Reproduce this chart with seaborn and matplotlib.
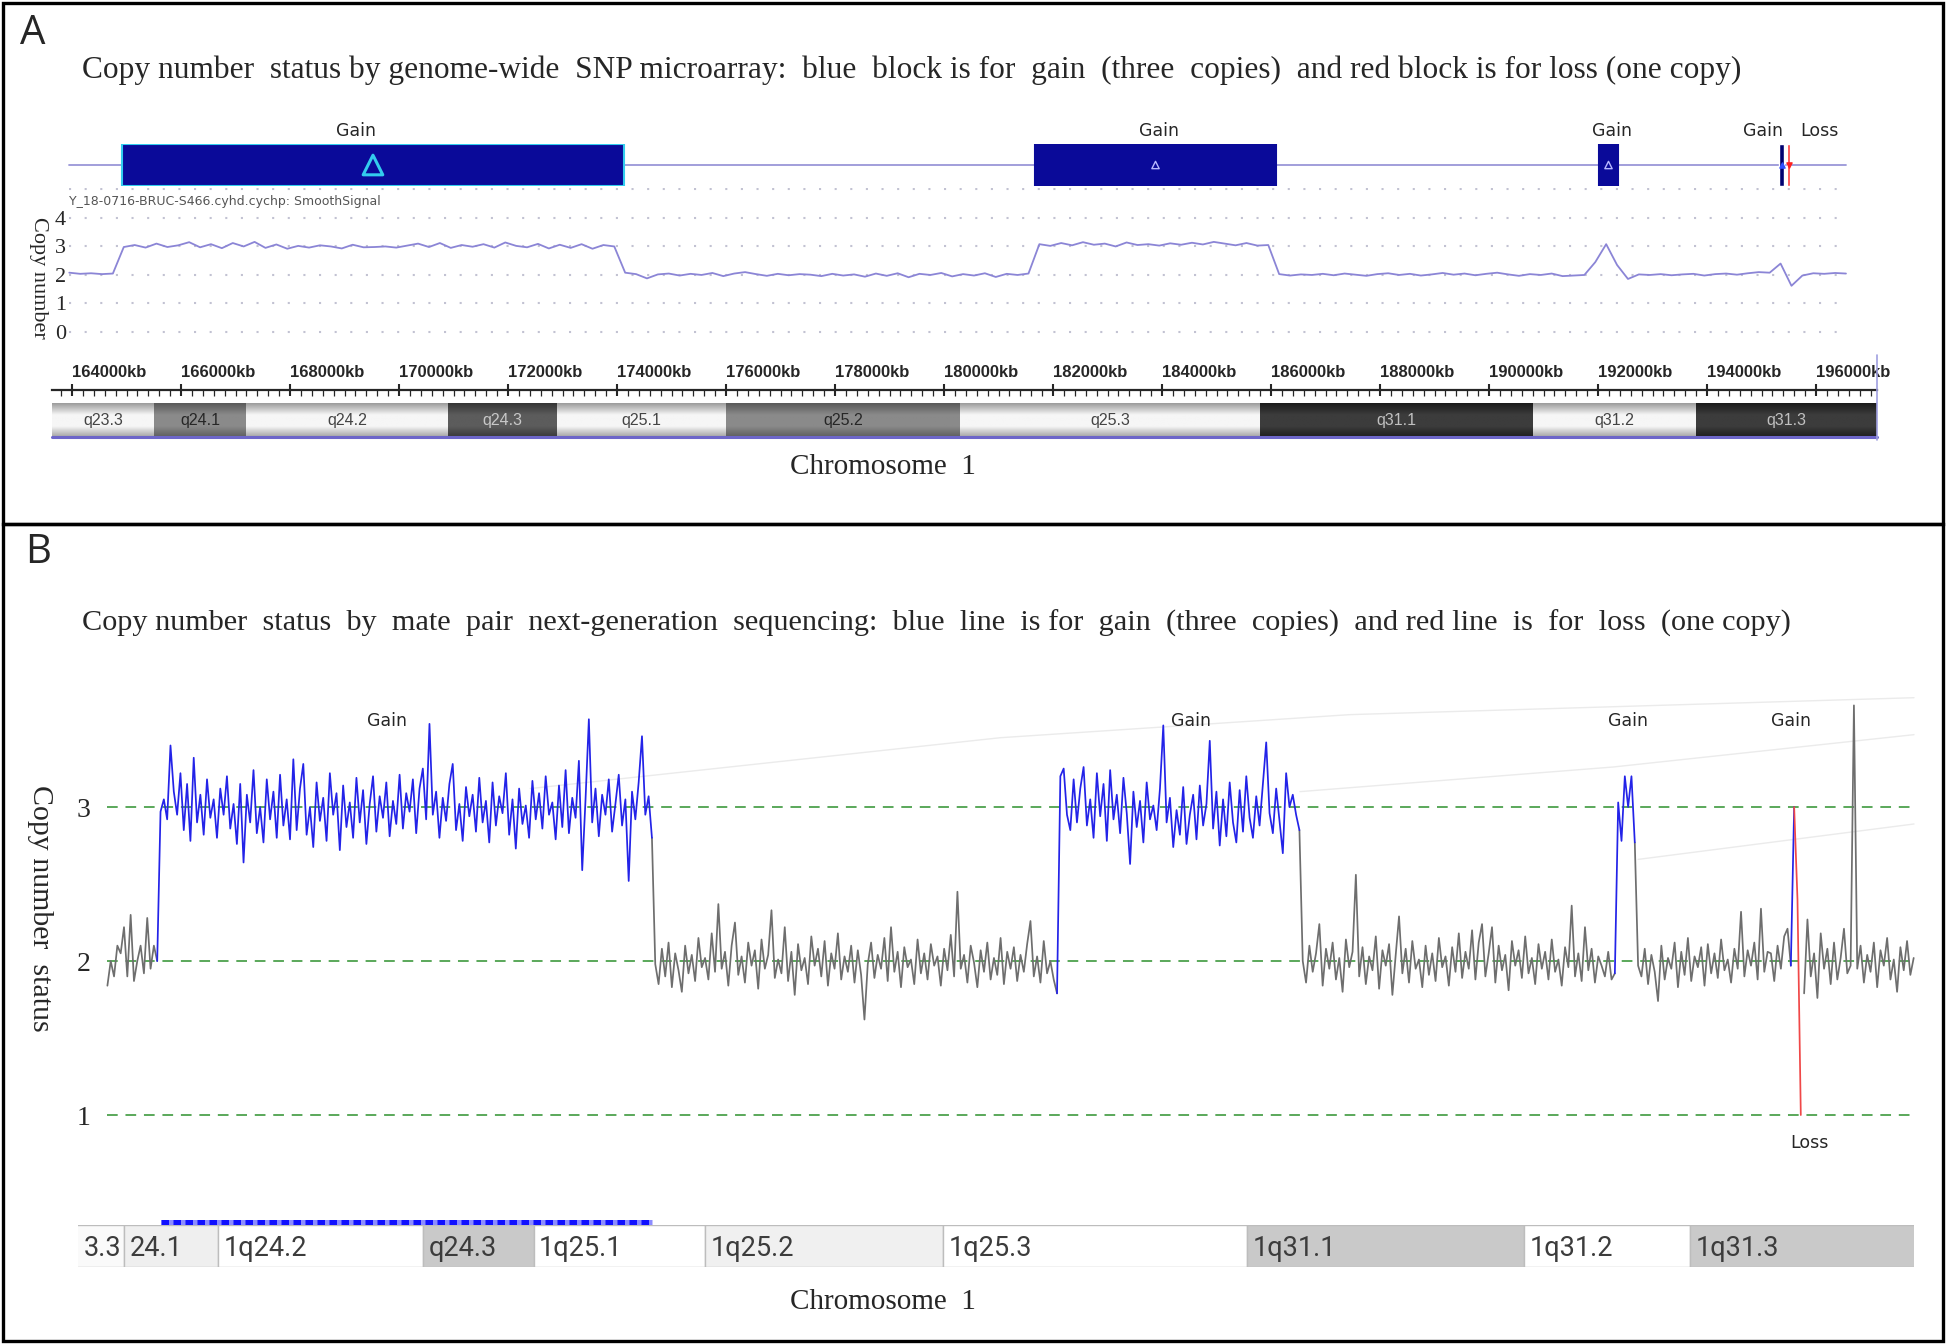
import numpy as np
import pandas as pd
import matplotlib
matplotlib.use('Agg')
import matplotlib.pyplot as plt
from matplotlib.colors import LinearSegmentedColormap
from matplotlib.patches import Rectangle
from matplotlib.lines import Line2D
from matplotlib.ticker import MultipleLocator
import seaborn as sns

W, H = 1946, 1344

# ---------------- Panel A: SNP microarray ----------------
SNP_START_KB = 163950
SNP_STEP_KB = 200
snp_smooth_cn = [
    2.08, 2.04, 2.06, 2.03, 2.05,
    2.98, 3.05, 2.96, 3.10, 2.98, 3.04, 3.15, 2.97, 3.08, 2.94,
    3.12, 3.00, 3.16, 2.95, 3.07, 2.92, 3.02, 2.96, 3.04, 3.00,
    2.93, 3.06, 2.97, 2.98, 3.00, 2.96, 3.03, 3.10, 2.98, 3.12,
    2.95, 3.05, 2.99, 3.08, 2.96, 3.14, 3.02, 2.97, 3.09, 2.93,
    3.06, 2.95, 3.08, 2.92, 3.05, 3.00,
    2.08, 2.03, 1.88, 2.02, 2.05, 1.98, 2.04, 2.00, 2.07, 1.96,
    2.05, 2.10, 2.03, 1.97, 2.04, 1.99, 2.03, 2.01, 1.96, 2.04,
    1.98, 2.02, 1.94, 2.05, 1.97, 2.06, 1.92, 2.04, 2.00, 2.07,
    1.95, 2.03, 1.98, 2.06, 1.93, 2.04, 2.00, 2.05,
    3.08, 3.02, 3.12, 3.04, 3.15, 3.06, 3.10, 3.00, 3.14, 3.05,
    3.08, 3.03, 3.11, 3.06, 3.13, 3.07, 3.16, 3.10, 3.04, 3.12, 3.03, 3.05,
    2.03, 1.98, 2.02, 2.00, 2.04, 1.99, 2.05, 2.01, 1.97, 2.03,
    2.06, 2.00, 2.04, 1.98, 2.02, 2.07, 2.01, 2.05, 1.99, 2.04,
    2.08, 2.02, 1.97, 2.03, 2.00, 2.05, 1.96, 1.98, 2.00,
    2.45, 3.08, 2.35, 1.86, 2.02,
    2.00, 2.03, 1.99, 2.02, 2.04, 1.98, 2.03, 2.05, 2.01, 2.06, 2.10, 2.08,
    2.40, 1.62, 1.98,
    2.06, 2.04, 2.07, 2.05,
]
snp_block_start_kb = [164917, 181670, 192018]
snp_block_end_kb = [174128, 186092, 192367]
snp_gain_label_kb = [169211, 183945, 192257, 195028]
snp_small_gain_kb = [195330, 195420]
snp_small_loss_kb = [195470, 195530]
snp_loss_label_kb = 196055
ruler_ticks_kb = list(range(164000, 196001, 2000))

band_names_a = ['q23.3', 'q24.1', 'q24.2', 'q24.3', 'q25.1', 'q25.2', 'q25.3', 'q31.1', 'q31.2', 'q31.3']
band_start_kb = [161500, 165500, 167200, 170900, 172900, 176000, 180300, 185800, 190800, 193800]
band_end_kb = [165500, 167200, 170900, 172900, 176000, 180300, 185800, 190800, 193800, 198700]
band_stain = ['gneg', 'gpos50', 'gneg', 'gpos75', 'gneg', 'gpos50', 'gneg', 'gpos100', 'gneg', 'gpos100']

# ---------------- Panel B: mate pair NGS ----------------
NGS_START_KB = 165200
NGS_BIN_KB = 60
ngs_norm_0 = [1.84, 2.00, 1.90, 2.10, 2.05, 2.22, 1.90, 2.30, 1.87, 2.00, 2.10, 1.92, 2.28, 1.95, 2.10, 2.00]
ngs_gain_1 = [
    2.97, 3.05, 2.92, 3.40, 3.10, 2.95, 3.22, 2.85, 3.15, 2.78,
    3.32, 2.90, 3.08, 2.82, 3.18, 2.93, 3.05, 2.80, 3.12, 2.95,
    3.20, 2.86, 3.02, 2.76, 3.15, 2.64, 3.08, 2.90, 3.24, 2.83,
    3.00, 2.77, 3.18, 2.92, 3.10, 2.80, 3.21, 2.88, 3.05, 2.79,
    3.31, 2.85, 3.12, 3.28, 2.82, 3.00, 2.74, 3.16, 2.91, 3.06,
    2.78, 3.22, 2.95, 3.09, 2.72, 3.14, 2.87, 3.03, 2.80, 3.19,
    2.90, 3.11, 2.76, 3.02, 3.20, 2.84, 3.07, 2.93, 3.16, 2.81,
    3.04, 2.89, 3.21, 2.86, 3.09, 2.97, 3.18, 2.83, 3.12, 3.25,
    2.92, 3.54, 2.95, 3.10, 2.80, 3.06, 2.91, 3.15, 3.28, 2.85,
    3.02, 2.78, 3.13, 2.94, 3.08, 2.84, 3.19, 2.90, 3.04, 2.77,
    3.16, 2.88, 3.07, 2.96, 3.22, 2.82, 3.05, 2.73, 3.12, 2.89,
    3.01, 2.80, 3.17, 2.92, 3.09, 2.86, 3.20, 2.95, 3.03, 2.79,
    3.14, 2.87, 3.24, 2.83, 3.06, 2.93, 3.30, 2.59, 3.05, 3.57,
    2.90, 3.12, 2.81, 3.08, 2.95, 3.18, 2.84, 3.02, 3.21, 2.88,
    3.05, 2.52, 3.10, 2.92, 3.16, 3.46, 2.95, 3.07, 2.80,
]
ngs_norm_1 = [
    1.98, 1.85, 2.08, 1.90, 2.12, 1.83, 2.05, 1.94, 1.80, 2.10,
    1.92, 2.04, 1.87, 2.15, 1.96, 2.02, 1.88, 2.18, 1.93, 2.37,
    1.95, 2.06, 1.84, 2.10, 2.25, 1.91, 2.03, 1.86, 2.12, 1.97,
    2.07, 1.82, 2.14, 1.95, 2.04, 2.33, 1.89, 2.01, 1.92, 2.22,
    1.87, 2.06, 1.78, 2.11, 1.94, 2.02, 1.85, 2.16, 1.97, 2.08,
    1.90, 2.13, 1.84, 2.05, 1.95, 2.18, 1.88, 2.03, 1.93, 2.10,
    1.86, 2.07, 1.91, 1.62, 1.98, 2.12, 1.89, 2.04, 1.95, 2.15,
    1.87, 2.22, 1.93, 2.06, 1.83, 2.09, 1.96, 2.01, 1.85, 2.14,
    1.92, 2.05, 1.88, 2.11, 1.97, 2.03, 1.84, 2.08, 1.94, 2.17,
    1.90, 2.45, 1.95, 2.04, 1.86, 2.10, 1.99, 1.83, 2.07, 1.93,
    2.12, 1.88, 2.02, 1.91, 2.15, 1.85, 2.06, 1.95, 2.09, 1.87,
    2.04, 1.93, 2.11, 2.26, 1.90, 2.03, 1.86, 2.13, 1.92, 2.00,
    1.88, 1.79,
]
ngs_gain_2 = [
    3.20, 3.25, 2.95, 2.85, 3.18, 2.90, 3.12, 3.26, 2.88, 3.05,
    2.80, 3.22, 2.94, 3.15, 2.78, 3.24, 2.92, 3.08, 2.83, 3.19,
    2.96, 2.63, 3.10, 2.87, 3.04, 2.77, 3.16, 2.92, 3.01, 2.85,
    3.12, 3.53, 2.90, 3.06, 2.74, 2.98, 2.82, 3.13, 2.76, 2.95,
    3.08, 2.79, 3.14, 2.88, 3.02, 3.43, 2.86, 3.10, 2.75, 3.05,
    2.81, 3.16, 2.90, 2.77, 3.11, 2.84, 3.20, 2.93, 2.80, 3.07,
    2.88, 3.15, 3.42, 2.96, 2.83, 3.12, 2.91, 2.70, 3.22, 3.00,
    3.08, 2.95, 2.85,
]
ngs_norm_2 = [
    2.00, 1.86, 2.10, 1.93, 2.05, 2.24, 1.84, 2.08, 1.95, 2.12,
    1.88, 2.02, 1.80, 2.14, 1.96, 2.06, 2.56, 1.90, 2.09, 1.85,
    2.03, 1.94, 2.16, 1.82, 2.07, 1.97, 2.11, 1.78, 2.04, 2.29,
    1.92, 2.08, 1.86, 2.13, 1.95, 2.01, 1.83, 2.10, 1.91, 2.05,
    1.87, 2.15, 1.96, 2.03, 1.84, 2.09, 1.93, 2.18, 1.89, 2.06,
    1.95, 2.20, 1.88, 2.12, 2.24, 1.90, 2.05, 2.22, 1.86, 2.10,
    1.94, 2.04, 1.81, 2.13, 1.97, 2.07, 1.89, 2.16, 1.92, 2.02,
    1.85, 2.11, 1.95, 2.06, 1.88, 2.14, 1.93, 2.01, 1.84, 2.09,
    1.96, 2.36, 1.90, 2.05, 1.87, 2.22, 1.94, 2.08, 1.86, 2.03,
    1.97, 1.90, 2.06, 1.88, 1.92,
]
ngs_gain_3 = [3.03, 2.78, 3.20, 3.00, 3.20, 2.77]
ngs_norm_3 = [
    1.97, 1.90, 2.08, 1.85, 2.04, 1.93, 1.74, 2.10, 1.88, 2.02,
    1.95, 2.12, 1.83, 2.06, 1.91, 2.15, 1.87, 2.03, 1.96, 2.09,
    1.84, 2.11, 1.92, 2.05, 1.89, 2.14, 1.94, 2.01, 1.86, 2.08,
    1.95, 2.32, 1.90, 2.07, 1.97, 2.12, 1.88, 2.34, 1.93, 2.06,
    2.05, 1.87, 2.10, 1.95, 2.16, 2.21, 1.97,
]
ngs_gain_4 = [3.00]
ngs_loss_1 = [2.40, 1.00]
ngs_norm_4 = [
    1.79, 2.27, 1.90, 2.05, 1.76, 2.18, 1.95, 2.08, 1.85, 2.12,
    1.88, 2.02, 2.21, 1.92, 1.97, 3.66, 1.95, 2.10, 1.86, 2.04,
    1.93, 2.12, 1.83, 2.07, 1.97, 2.15, 1.88, 2.01, 1.80, 2.09,
    1.94, 2.13, 1.91, 2.02,
]
ngs_segments = [
    ('normal', ngs_norm_0), ('gain', ngs_gain_1), ('normal', ngs_norm_1),
    ('gain', ngs_gain_2), ('normal', ngs_norm_2), ('gain', ngs_gain_3),
    ('normal', ngs_norm_3), ('gain', ngs_gain_4), ('loss', ngs_loss_1),
    ('normal', ngs_norm_4),
]
# faint mate-pair link traces in the background (kb, copy number)
link_kb = [[172840, 181330, 187650, 197846], [186750, 192410, 197846], [192860, 197846]]
link_cn = [[3.12, 3.45, 3.60, 3.71], [3.10, 3.26, 3.47], [2.66, 2.89]]
ngs_gain_label_kb = [170252, 184781, 192677, 195623]
ngs_loss_label_kb = 195948

band_names_b = ['3.3', '24.1', '1q24.2', 'q24.3', '1q25.1', '1q25.2', '1q25.3', '1q31.1', '1q31.2', '1q31.3']
band_shade_b = ['#fafafa', '#efefef', '#ffffff', '#c9c9c9', '#ffffff', '#f0f0f0', '#ffffff', '#c9c9c9', '#ffffff', '#c9c9c9']

title_a = ('Copy number  status by genome-wide  SNP microarray:  blue  block is for  gain  '
           '(three  copies)  and red block is for loss (one copy)')
title_b = ('Copy number  status  by  mate  pair  next-generation  sequencing:  blue  line  is for  '
           'gain  (three  copies)  and red line  is  for  loss  (one copy)')

# ---------------- helpers ----------------
sns.set_style('white')
plt.rcParams['font.family'] = ['DejaVu Sans']
SERIF = ['Liberation Serif', 'DejaVu Serif']
NARROW = ['Liberation Sans Narrow', 'Liberation Sans']


def px_rect(x0, y0, x1, y1):
    return [x0 / W, 1 - y1 / H, (x1 - x0) / W, (y1 - y0) / H]


def a_kb(px):
    return 164000 + (px - 72) / 0.0545


def b_kb(px):
    return 165500 + (px - 124) / 0.05534


def fig_text(x, y, s, **kw):
    return fig.text(x / W, 1 - y / H, s, **kw)


fig = plt.figure(figsize=(W / 100, H / 100), dpi=100)

# ======== Panel A ========
snp_x = SNP_START_KB + SNP_STEP_KB * np.arange(len(snp_smooth_cn))
a_lim = (a_kb(52), a_kb(1877))

fig_text(20, 34, 'A', fontsize=29, family=['Open Sans', 'DejaVu Sans'], va='center', ha='left')
fig_text(82, 70, title_a, fontsize=22.6, family=SERIF, va='center', ha='left')

# segment track
ax_blk = fig.add_axes(px_rect(52, 144, 1877, 186))
ax_blk.set_xlim(*a_lim)
ax_blk.set_ylim(0, 1)
ax_blk.axis('off')
ax_blk.plot([snp_x[0], snp_x[-1]], [0.5, 0.5], color='#9a96d8', lw=1.3, zorder=1)
widths = np.array(snp_block_end_kb) - np.array(snp_block_start_kb)
ax_blk.barh(0.5, widths, left=snp_block_start_kb, height=1.0, color='#0a0a99',
            edgecolor=['#33ccee', '#0a0a99', '#0a0a99'], linewidth=1.5, zorder=2)
centers = (np.array(snp_block_start_kb) + np.array(snp_block_end_kb)) / 2
ax_blk.scatter(centers, [0.5] * 3, marker='^', s=[200, 28, 28], facecolors='none',
               edgecolors=['#33ccee', '#b8b8ff', '#b8b8ff'], linewidths=[2.2, 1.0, 1.0], zorder=3)
ax_blk.barh(0.5, snp_small_gain_kb[1] - snp_small_gain_kb[0], left=snp_small_gain_kb[0],
            height=1.0, color='#000070', zorder=2)
ax_blk.barh(0.5, snp_small_loss_kb[1] - snp_small_loss_kb[0], left=snp_small_loss_kb[0],
            height=1.0, color='#ff3b3b', zorder=2)
ax_blk.scatter([np.mean(snp_small_gain_kb)], [0.5], marker='^', s=14, color='#3050ff', zorder=4)
ax_blk.scatter([np.mean(snp_small_loss_kb)], [0.5], marker='v', s=14, color='#ff2020', zorder=4)
for kb in snp_gain_label_kb:
    ax_blk.text(kb, 1.1, 'Gain', ha='center', va='bottom', fontsize=12.5, clip_on=False)
ax_blk.text(snp_loss_label_kb, 1.1, 'Loss', ha='center', va='bottom', fontsize=12.5, clip_on=False)

# smooth signal track
ax_sig = fig.add_axes(px_rect(52, 188, 1877, 345))
ax_sig.set_facecolor('none')
ax_sig.hlines([0, 1, 2, 3, 4, 5], snp_x[0], snp_x[-1], colors='#c2c2d2',
              linestyles=(0, (1, 6.5)), lw=1.5)
sns.lineplot(x=snp_x, y=snp_smooth_cn, ax=ax_sig, color='#8b85d6', lw=1.3, errorbar=None)
ax_sig.set_xlim(*a_lim)
ax_sig.set_ylim(-0.456, 5.05)
ax_sig.set_xticks([])
ax_sig.set_yticks([0, 1, 2, 3, 4])
ax_sig.set_yticklabels(['0', '1', '2', '3', '4'], family=SERIF, fontsize=16)
ax_sig.tick_params(axis='y', length=0, pad=-10)
ax_sig.set_xlabel('')
ax_sig.set_ylabel('')
sns.despine(ax=ax_sig, left=True, bottom=True)
fig_text(69, 202, 'Y_18-0716-BRUC-S466.cyhd.cychp: SmoothSignal', fontsize=9,
         color='#555555', va='center', ha='left')
fig_text(38, 278, 'Copy number', rotation=-90, fontsize=16, family=SERIF,
         ha='center', va='center')

# ruler
ax_rul = fig.add_axes(px_rect(52, 390, 1877, 400))
ax_rul.set_facecolor('none')
ax_rul.set_xlim(*a_lim)
ax_rul.set_yticks([])
for sp in ['left', 'right', 'bottom']:
    ax_rul.spines[sp].set_visible(False)
ax_rul.spines['top'].set_linewidth(1.6)
ax_rul.xaxis.tick_top()
ax_rul.set_xticks(ruler_ticks_kb)
ax_rul.set_xticklabels([f'{v}kb' for v in ruler_ticks_kb], family=NARROW,
                       fontsize=12, fontweight='bold')
ax_rul.xaxis.set_minor_locator(MultipleLocator(200))
ax_rul.tick_params(which='major', direction='inout', length=8, width=1.5, pad=3)
ax_rul.tick_params(which='minor', direction='in', length=4, width=0.9, top=True)
for lab in ax_rul.get_xticklabels():
    lab.set_ha('left')
fig.add_artist(Line2D([1877 / W, 1877 / W], [1 - 355 / H, 1 - 440 / H],
                      color='#a0a0e0', lw=1.2))

# ideogram A
ax_ida = fig.add_axes(px_rect(52, 403, 1877, 438))
stain_colors = {'gneg': ('#9c9c9c', '#f6f6f6'), 'gpos50': ('#5a5a5a', '#8a8a8a'),
                'gpos75': ('#363636', '#5c5c5c'), 'gpos100': ('#1b1b1b', '#3c3c3c')}
stain_text = {'gneg': '#444444', 'gpos50': '#262626', 'gpos75': '#c8c8c8', 'gpos100': '#c0c0c0'}
grad = np.linspace(0, 1, 64).reshape(-1, 1)
for name, s, e, st in zip(band_names_a, band_start_kb, band_end_kb, band_stain):
    edge, mid = stain_colors[st]
    cm = LinearSegmentedColormap.from_list(name, [edge, mid, mid, edge])
    ax_ida.imshow(grad, extent=(s, e, 0, 1), aspect='auto', cmap=cm, origin='lower',
                  interpolation='bilinear')
    xc = (max(s, a_lim[0]) + min(e, a_lim[1])) / 2
    ax_ida.text(xc, 0.5, name, ha='center', va='center', fontsize=11.5,
                family=NARROW, color=stain_text[st])
ax_ida.set_xlim(*a_lim)
ax_ida.set_ylim(0, 1)
ax_ida.axis('off')
ax_ida.plot(a_lim, [0.02, 0.02], color='#6d66c9', lw=2.2, clip_on=False)
fig_text(790, 467, 'Chromosome  1', fontsize=21, family=SERIF, va='center', ha='left')

# ======== Panel B ========
rows = []
spans = []
i0 = 0
prev = None
for seg_id, (call, vals) in enumerate(ngs_segments):
    kb = NGS_START_KB + NGS_BIN_KB * np.arange(i0, i0 + len(vals))
    seg = pd.DataFrame({'kb': kb, 'cn': vals, 'call': call, 'seg': seg_id})
    spans.append((call, kb[0], kb[-1]))
    full = seg
    if prev is not None and prev['call'].iloc[0] != 'loss':
        full = pd.concat([prev.tail(1).assign(call=call, seg=seg_id), seg])
    rows.append(full)
    prev = seg
    i0 += len(vals)
ngs = pd.concat(rows, ignore_index=True)

fig_text(25, 553, 'B', fontsize=29, family=['Open Sans', 'DejaVu Sans'], va='center', ha='left')
fig_text(82, 623, title_b, fontsize=21.8, family=SERIF, va='center', ha='left')

ax_b = fig.add_axes(px_rect(60, 690, 1916, 1160))
ax_b.set_facecolor('none')
for lk, lc in zip(link_kb, link_cn):
    ax_b.plot(lk, lc, color='#ebebeb', lw=1.0, zorder=0)
ax_b.hlines([1, 2, 3], ngs['kb'].min(), ngs['kb'].max() + 30, colors='#5aa85a',
            linestyles=(0, (5.5, 4)), lw=1.4, zorder=1)
sns.lineplot(data=ngs, x='kb', y='cn', hue='call', units='seg', estimator=None,
             sort=False, hue_order=['normal', 'gain', 'loss'],
             palette={'normal': '#6e6e6e', 'gain': '#2323e8', 'loss': '#f04848'},
             linewidth=1.25, legend=False, ax=ax_b, zorder=2)
ax_b.set_xlim(b_kb(60), b_kb(1916))
ax_b.set_ylim(0.708, 3.76)
ax_b.set_xticks([])
ax_b.set_yticks([1, 2, 3])
ax_b.set_yticklabels(['1', '2', '3'], family=SERIF, fontsize=20)
ax_b.tick_params(axis='y', length=0, pad=-22)
ax_b.set_xlabel('')
ax_b.set_ylabel('')
sns.despine(ax=ax_b, left=True, bottom=True)
for kb in ngs_gain_label_kb:
    ax_b.text(kb, 3.56, 'Gain', ha='center', va='center', fontsize=12.5)
ax_b.text(ngs_loss_label_kb, 0.82, 'Loss', ha='center', va='center', fontsize=12.5, clip_on=False)
fig_text(40, 908, 'Copy number  status', rotation=-90, fontsize=21.5, family=SERIF,
         ha='center', va='center')

# dotted gain bar above the ideogram
gain_span = [s for s in spans if s[0] == 'gain'][0]
ax_bar = fig.add_axes(px_rect(60, 1216, 1916, 1227))
ax_bar.set_xlim(b_kb(60), b_kb(1916))
ax_bar.set_ylim(0, 1)
ax_bar.axis('off')
ax_bar.hlines(0.5, gain_span[1], gain_span[2], colors='#8c8cff', lw=3.6)
ax_bar.hlines(0.5, gain_span[1], gain_span[2], colors='#1010ff', lw=3.6,
              linestyles=(0, (1.5, 0.9)))

# ideogram B
ax_idb = fig.add_axes(px_rect(78, 1225, 1914, 1267))
b_lim = (b_kb(78), b_kb(1914))
ax_idb.barh(0.5, np.array(band_end_kb) - np.array(band_start_kb), left=band_start_kb,
            height=1.0, color=band_shade_b, edgecolor='#bdbdbd', linewidth=1.0)
for name, s in zip(band_names_b, band_start_kb):
    ax_idb.text(max(s, b_lim[0]) + 100, 0.45, name, ha='left', va='center',
                fontsize=19.5, family=['Roboto', 'DejaVu Sans'], color='#3c3c3c', clip_on=True)
ax_idb.set_xlim(*b_lim)
ax_idb.set_ylim(0, 1)
ax_idb.axis('off')
fig_text(790, 1302, 'Chromosome  1', fontsize=21, family=SERIF, va='center', ha='left')

# panel frames
for y0, y1 in [(3, 524), (524, 1341)]:
    fig.add_artist(Rectangle((3 / W, 1 - y1 / H), 1940 / W, (y1 - y0) / H,
                             transform=fig.transFigure, fill=False, lw=2.4, ec='black'))

fig.savefig('out.png', dpi=100)
